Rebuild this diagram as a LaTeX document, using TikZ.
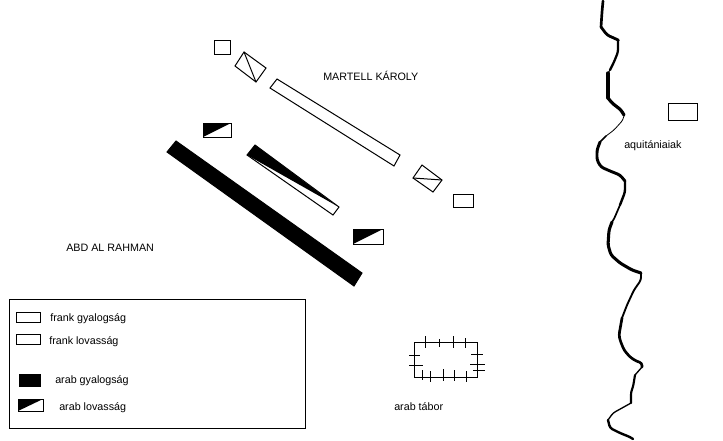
\documentclass[tikz,border=0pt]{standalone}
\usepackage{fontspec}
\setmainfont{Liberation Sans}
\tikzset{
  unit/.style={draw=black,line width=0.75pt,fill=white},
  solid unit/.style={draw=black,line width=0.75pt,fill=black},
  thinline/.style={draw=black,line width=0.75pt},
  label text/.style={font=\fontsize{8.05pt}{9pt}\selectfont,anchor=west,inner sep=0pt},
  river/.style={draw=black,line cap=round,line join=round,rounded corners=2pt}
}
\begin{document}
\begin{tikzpicture}[x=0.75pt,y=-0.75pt]
\useasboundingbox (0,0) rectangle (723,440);
% river
\draw[river,line width=2pt] (603,1) -- (602,12) -- (601,27);
\draw[river,line width=2.1pt] (601,27) -- (607,35) -- (616,39) -- (618,40);
\draw[river,line width=1.7pt] (618,40) -- (618,52) -- (614,62) -- (610,70);
\draw[river,line width=0.8pt] (610,70) -- (608,73);
\draw[river,line width=2.5pt] (608,73) -- (608,98);
\draw[river,line width=2.4pt] (608,98) -- (612,103) -- (621,110) -- (624,115);
\draw[river,line width=0.6pt] (624,115) -- (623,120) -- (614,130) -- (606,136);
\draw[river,line width=1.2pt] (606,136) -- (600,142);
\draw[river,line width=2.2pt] (600,142) -- (597,150) -- (597,160) -- (601,167) -- (610,171) -- (620,175) -- (625,181);
\draw[river,line width=1.8pt] (625,181) -- (625,192) -- (620,205);
\draw[river,line width=1.3pt] (620,205) -- (614,219) -- (612,222);
\draw[river,line width=2.3pt] (612,222) -- (609,230) -- (608,245) -- (611,255) -- (620,263) -- (632,270) -- (641,273);
\draw[river,line width=1.4pt] (641,273) -- (641,280) -- (634,290) -- (627,305) -- (622,318);
\draw[river,line width=2pt] (622,318) -- (619,335) -- (620,340) -- (624,350) -- (630,357) -- (636,361) -- (642,363) -- (642,367);
\draw[river,line width=1pt] (642,367) -- (635,375);
\draw[river,line width=1.6pt] (635,375) -- (633,387) -- (631,392) -- (631,403);
\draw[river,line width=1pt] (631,403) -- (622,408) -- (613,413) -- (608,420);
\draw[river,line width=1.8pt] (608,420) -- (610,428) -- (620,433) -- (630,437) -- (633,439);
% frank units
\draw[unit] (214.5,40) rectangle (230,54.5);
\draw[unit] (244,52) -- (266,68) -- (256,82) -- (235,66) -- cycle;
\draw[thinline] (244,52) -- (256,82);
\draw[unit] (277,79) -- (400,155) -- (394,166) -- (270,88) -- cycle;
\draw[unit] (422,165) -- (442,180) -- (433,192) -- (413,178) -- cycle;
\draw[thinline] (413,178) -- (442,180);
\draw[unit] (453,194) rectangle (473,207);
\draw[unit] (668,103) rectangle (697,120);
% arab units
\draw[unit] (203,123) rectangle (231,137);
\fill[black] (203,123) -- (231,123) -- (203,137) -- cycle;
\draw[solid unit] (176,141) -- (362,273) -- (354,286) -- (167,152) -- cycle;
\draw[unit] (255,145) -- (339,207) -- (333,215) -- (247,155) -- cycle;
\fill[black] (255,145) -- (337,206) -- (247,155) -- cycle;
\draw[unit] (353,229) rectangle (383,244);
\fill[black] (353,229) -- (383,229) -- (353,244) -- cycle;
% legend
\draw[thinline] (9,299) rectangle (305,428);
\draw[unit] (16,312) rectangle (40,322);
\draw[unit] (16,334) rectangle (40,344);
\draw[solid unit] (19,374) rectangle (40,386);
\draw[unit] (18,399) rectangle (43,411);
\fill[black] (18,399) -- (43,399) -- (18,411) -- cycle;
% camp
\draw[thinline] (414,342) rectangle (477,377);
\foreach \x/\a/\b in {425/336/348,439/339/347,453/336/348,465/338/348,422/370/380,430/371/382,443/369/381,454/370/381,466/371/382}
  \draw[thinline] (\x,\a) -- (\x,\b);
\foreach \y/\a/\b in {355/409/420,365/409/423,354/471/483,364/470/485,370/473/485}
  \draw[thinline] (\a,\y) -- (\b,\y);
% labels
\node[label text] (martell) at (323,75.5) {MARTELL KÁROLY};
\node[label text] (abd) at (66,247.5) {ABD AL RAHMAN};
\node[label text] (aquit) at (624,145.5) {aquitániaiak};
\node[label text] (tabor) at (394,407) {arab tábor};
\node[label text] (fg) at (50,319) {frank gyalogság};
\node[label text] (fl) at (49,342) {frank lovasság};
\node[label text] (ag) at (55,381) {arab gyalogság};
\node[label text] (al) at (59,408) {arab lovasság};
\end{tikzpicture}
\end{document}
